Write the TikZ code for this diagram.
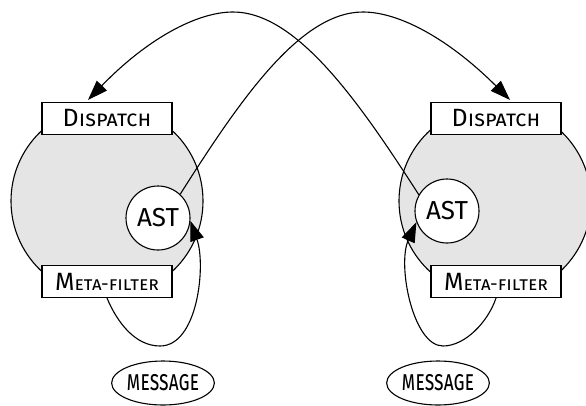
\documentclass[tikz,border=0pt]{standalone}
\usepackage{fontspec}
\usepackage{graphicx}
\setmainfont{Fira Sans}
\usetikzlibrary{arrows.meta,shapes.geometric}
\tikzset{
  bigcirc/.style={circle,draw,fill=black!10,line width=1.1pt,minimum size=192pt,inner sep=0pt},
  labbox/.style={rectangle,draw,fill=white,line width=1.1pt,minimum width=130pt,minimum height=32pt,inner sep=0pt},
  astnode/.style={circle,draw,fill=white,line width=1.1pt,minimum size=64pt,inner sep=0pt,font=\fontsize{26}{28}\selectfont},
  msgnode/.style={ellipse,draw,line width=1.1pt,minimum width=82pt,minimum height=44pt,inner sep=0pt},
  conn/.style={line width=1.1pt,-{Triangle[length=20pt,width=14pt]}}
}
\newcommand{\msgtext}{\scalebox{0.7}[1]{\fontsize{28}{28}\selectfont\scshape message}}
\newcommand{\disptext}{{\fontsize{25}{26}\selectfont D}{\fontsize{22}{26}\selectfont\scshape ispatch}}
\newcommand{\metatext}{{\fontsize{25}{26}\selectfont M}{\fontsize{19}{26}\selectfont\scshape eta-filter}}
\begin{document}
\begin{tikzpicture}[x=1pt,y=-1pt]
\useasboundingbox (0,0) rectangle (586,405);
\clip (0,0) rectangle (586,405);
\node[bigcirc] (bigL) at (107,201) {};
\node[bigcirc] (bigR) at (495,201) {};
\node[labbox] (dispL) at (107,118.5) {\disptext};
\node[labbox] (metaL) at (107,281.5) {\metatext};
\node[labbox] (dispR) at (496,118.5) {\disptext};
\node[labbox] (metaR) at (496,281.5) {\metatext};
\node[astnode] (astL) at (158,218) {AST};
\node[astnode] (astR) at (447,211) {AST};
\node[msgnode] (msgL) at (163,383) {\msgtext};
\node[msgnode] (msgR) at (438,383) {\msgtext};
\coordinate (tipR) at ([xshift=14pt,yshift=2pt]dispR.north);
\coordinate (tipL) at ([xshift=-19pt,yshift=2pt]dispL.north);
\draw[conn] (astL.47) .. controls (240,100) and (300,12) .. (363,12)
  .. controls (400,12) and (450,40) .. (tipR);
\draw[conn] (astR.150) .. controls (358,100) and (296,12) .. (233,12)
  .. controls (196,12) and (146,40) .. (tipL);
\draw[conn] (metaL.south) .. controls (117,322) and (135,346) .. (160,346)
  .. controls (198,346) and (206,265) .. (astL.-5);
\draw[conn] (metaR.south) .. controls (488,322) and (465,346) .. (443,346)
  .. controls (413,346) and (397,265) .. (astR.200);
\end{tikzpicture}
\end{document}
